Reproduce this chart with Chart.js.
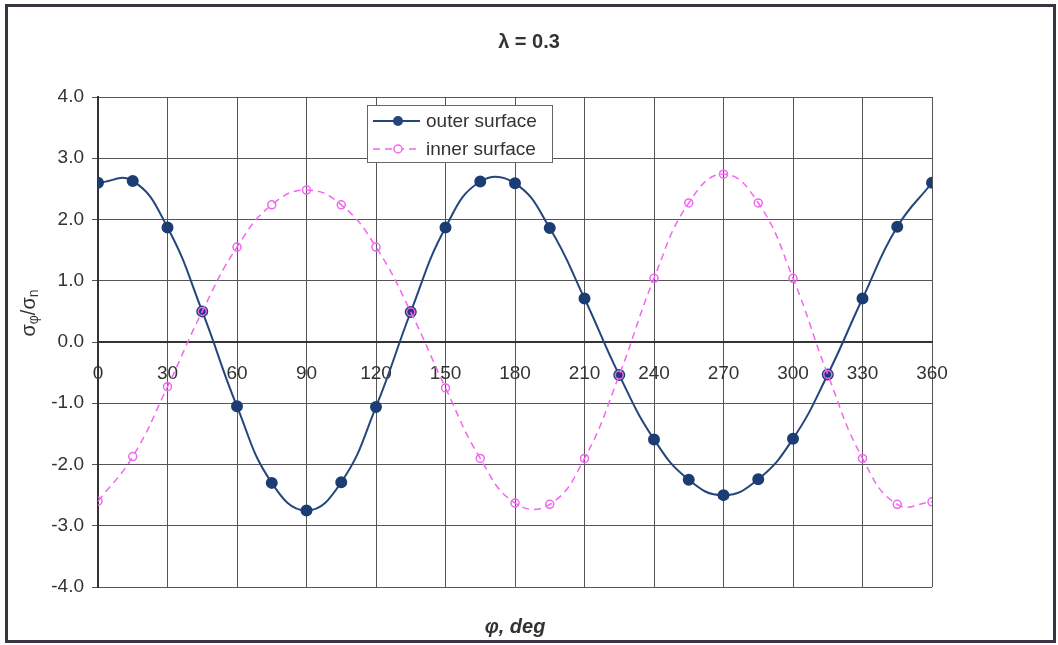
<!DOCTYPE html>
<html>
<head>
<meta charset="utf-8">
<script src="https://cdn.jsdelivr.net/npm/chart.js@4"></script>
<style>
    html, body { margin: 0; padding: 0; background: #fff; }
    #wrap { width: 1058px; height: 645px; }
</style>
</head>
<body>
<div id="wrap"><canvas id="stress-chart"></canvas></div>
<script>
const angles = [0, 15, 30, 45, 60, 75, 90, 105, 120, 135, 150, 165, 180,
    195, 210, 225, 240, 255, 270, 285, 300, 315, 330, 345, 360];
const outerSurface = [2.60, 2.63, 1.87, 0.50, -1.05, -2.30, -2.75, -2.29, -1.06, 0.49, 1.87, 2.62, 2.59,
    1.86, 0.71, -0.54, -1.59, -2.25, -2.50, -2.24, -1.58, -0.53, 0.71, 1.88, 2.60];
const innerSurface = [-2.60, -1.87, -0.73, 0.50, 1.55, 2.24, 2.48, 2.24, 1.55, 0.49, -0.75, -1.90, -2.63,
    -2.65, -1.90, -0.54, 1.04, 2.27, 2.74, 2.27, 1.04, -0.53, -1.90, -2.65, -2.61];
const seriesNames = ["outer surface", "inner surface"];
const titleText = "λ = 0.3";
const xAxisTitle = "φ, deg";

const FONT = "'Liberation Sans', Arial, sans-serif";
const OUTER_COLOR = "#25467d";
const INNER_COLOR = "#f266f0";

function toPoints(values) {
    return angles.map((a, i) => ({ x: a, y: values[i] }));
}

// white background + outer frame
const framePlugin = {
    id: "frame",
    beforeDraw(chart) {
        const ctx = chart.ctx;
        ctx.save();
        ctx.fillStyle = "#fff";
        ctx.fillRect(0, 0, chart.width, chart.height);
        ctx.restore();
    },
    afterDraw(chart) {
        const ctx = chart.ctx;
        ctx.save();
        ctx.strokeStyle = "#3b3340";
        ctx.lineWidth = 3;
        ctx.strokeRect(6.5, 5.5, chart.width - 10, chart.height - 9);
        ctx.restore();
    }
};

// rotated y label with subscripts
const yLabelPlugin = {
    id: "yLabel",
    afterDraw(chart) {
        const ctx = chart.ctx;
        const parts = [
            { t: "σ", size: 20, dy: 0 },
            { t: "φ", size: 14, dy: 5 },
            { t: "/σ", size: 20, dy: 0 },
            { t: "n", size: 14, dy: 5 }
        ];
        ctx.save();
        let total = 0;
        parts.forEach(p => {
            ctx.font = p.size + "px " + FONT;
            total += ctx.measureText(p.t).width;
        });
        ctx.translate(29, 313);
        ctx.rotate(-Math.PI / 2);
        ctx.fillStyle = "#333";
        ctx.textBaseline = "middle";
        let x = -total / 2;
        parts.forEach(p => {
            ctx.font = p.size + "px " + FONT;
            ctx.fillText(p.t, x, p.dy);
            x += ctx.measureText(p.t).width;
        });
        ctx.restore();
    }
};

// legend box inside the plot
const legendBoxPlugin = {
    id: "legendBox",
    afterDraw(chart) {
        const ctx = chart.ctx;
        const left = 367, top = 105, w = 185, h = 57;
        ctx.save();
        ctx.fillStyle = "#fff";
        ctx.fillRect(left, top, w, h);
        ctx.strokeStyle = "#666";
        ctx.lineWidth = 1;
        ctx.strokeRect(left + 0.5, top + 0.5, w, h);

        const rows = [
            { name: seriesNames[0], y: top + 16, color: OUTER_COLOR, dash: [], filled: true, r: 5, lw: 2 },
            { name: seriesNames[1], y: top + 44, color: INNER_COLOR, dash: [7, 5], filled: false, r: 4, lw: 1.5 }
        ];
        rows.forEach(row => {
            ctx.beginPath();
            ctx.setLineDash(row.dash);
            ctx.strokeStyle = row.color;
            ctx.lineWidth = row.lw;
            ctx.moveTo(left + 6, row.y);
            ctx.lineTo(left + 53, row.y);
            ctx.stroke();
            ctx.setLineDash([]);
            ctx.beginPath();
            ctx.arc(left + 31, row.y, row.r, 0, Math.PI * 2);
            if (row.filled) {
                ctx.fillStyle = row.color;
                ctx.fill();
            } else {
                ctx.fillStyle = "#fff";
                ctx.fill();
                ctx.stroke();
            }
            ctx.fillStyle = "#333";
            ctx.font = "19px " + FONT;
            ctx.textBaseline = "middle";
            ctx.fillText(row.name, left + 59, row.y + 1);
        });
        ctx.restore();
    }
};

const ctx = document.getElementById("stress-chart");

new Chart(ctx, {
    type: "line",
    data: {
        datasets: [
            {
                label: seriesNames[0],
                data: toPoints(outerSurface),
                borderColor: OUTER_COLOR,
                backgroundColor: OUTER_COLOR,
                borderWidth: 2,
                pointRadius: 5,
                pointBackgroundColor: "#1c3d73",
                pointBorderColor: "#1c3d73",
                tension: 0.45,
                order: 1
            },
            {
                label: seriesNames[1],
                data: toPoints(innerSurface),
                borderColor: INNER_COLOR,
                backgroundColor: "rgba(0,0,0,0)",
                borderWidth: 1.5,
                borderDash: [7, 5],
                pointRadius: 4,
                pointBorderWidth: 1.5,
                pointBackgroundColor: "rgba(255,255,255,0)",
                pointBorderColor: INNER_COLOR,
                tension: 0.45,
                order: 0
            }
        ]
    },
    options: {
        responsive: true,
        maintainAspectRatio: false,
        animation: false,
        layout: {
            padding: { left: 0, right: 0, top: 0, bottom: 0 }
        },
        plugins: {
            legend: { display: false },
            tooltip: { enabled: false },
            title: {
                display: true,
                text: titleText,
                color: "#333",
                font: { family: FONT, size: 20, weight: "bold" },
                padding: { top: 30, bottom: 43 }
            },
            subtitle: {
                display: true,
                text: xAxisTitle,
                position: "bottom",
                fullSize: false,
                color: "#333",
                font: { family: FONT, size: 20, weight: "bold", style: "italic" },
                padding: { top: 28, bottom: 6 }
            }
        },
        scales: {
            x: {
                type: "linear",
                position: { y: 0 },
                min: 0,
                max: 360,
                ticks: {
                    stepSize: 30,
                    color: "#333",
                    padding: 14,
                    maxRotation: 0,
                    font: { family: FONT, size: 19 }
                },
                grid: { color: "#555", lineWidth: 1, tickLength: 6 },
                border: { color: "#333", width: 2 }
            },
            y: {
                min: -4,
                max: 4,
                afterFit(scale) { scale.width = 98; },
                ticks: {
                    stepSize: 1,
                    color: "#333",
                    padding: 8,
                    font: { family: FONT, size: 19 },
                    callback: v => v.toFixed(1)
                },
                grid: { color: "#555", lineWidth: 1, tickLength: 6 },
                border: { color: "#333", width: 2 }
            },
            // empty right-hand axis, only reserves the right margin
            yRight: {
                position: "right",
                afterFit(scale) { scale.width = 126; },
                ticks: { display: false },
                grid: { display: false },
                border: { display: false }
            }
        }
    },
    plugins: [framePlugin, yLabelPlugin, legendBoxPlugin]
});
</script>
</body>
</html>
